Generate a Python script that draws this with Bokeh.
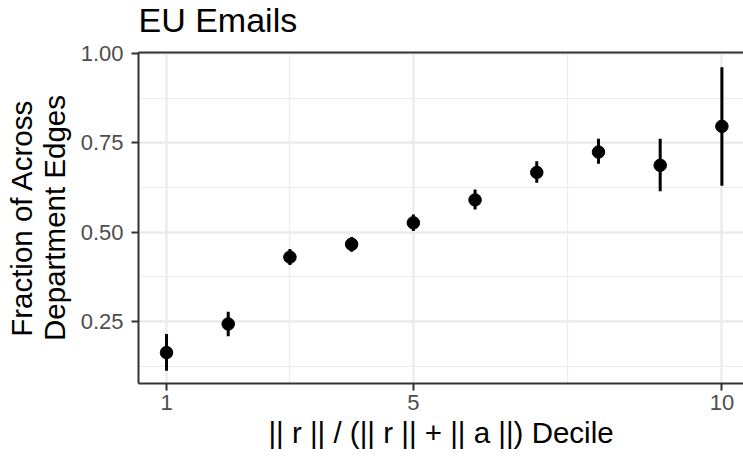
from bokeh.plotting import figure
from bokeh.models import FixedTicker, LinearAxis, Range1d, NumeralTickFormatter, ColumnDataSource, Grid
from bokeh.embed import file_html
from bokeh.resources import INLINE

# ---- data ----
decile = [1, 2, 3, 4, 5, 6, 7, 8, 9, 10]
frac = [0.163, 0.243, 0.430, 0.466, 0.526, 0.590, 0.667, 0.724, 0.687, 0.796]
lower = [0.112, 0.209, 0.408, 0.445, 0.503, 0.563, 0.638, 0.691, 0.614, 0.630]
upper = [0.215, 0.277, 0.453, 0.486, 0.549, 0.619, 0.698, 0.761, 0.761, 0.961]

x_major = [1, 5, 10]
x_minor = [3, 7.5]
y_major = [0.25, 0.50, 0.75, 1.00]
y_minor = [0.125, 0.375, 0.625, 0.875]

title_text = "EU Emails"
x_title = "|| r || / (|| r || + || a ||) Decile"
y_title = "Fraction of Across\nDepartment Edges"

FONT = "Liberation Sans"

src = ColumnDataSource(dict(x=decile, y=frac, lo=lower, hi=upper))

# canvas is 16px taller than the window and shifted up by 16px, so the title
# can sit higher above the panel than Bokeh's title box otherwise allows
p = figure(width=743, height=473, output_backend="svg", toolbar_location=None,
           x_range=Range1d(0.546, 10.35), y_range=Range1d(0.0765, 1.0025),
           min_border_left=138, min_border_right=0, min_border_top=68, min_border_bottom=74,
           x_axis_type=None, y_axis_type=None)
p.margin = (-16, 0, 0, 0)
p.outline_line_color = None
p.background_fill_color = "white"
p.border_fill_color = "white"

# title
p.title.text = title_text
p.title.text_font = FONT
p.title.text_font_size = "34px"
p.title.text_font_style = "normal"
p.title.text_color = "black"
p.title.align = "left"
p.title.standoff = 28
p.title.offset = 0

axis_color = "#333333"
tick_color = "#4D4D4D"

xaxis = LinearAxis(ticker=FixedTicker(ticks=x_major, minor_ticks=x_minor))
xaxis.axis_label = x_title
p.add_layout(xaxis, "below")
yaxis = LinearAxis(ticker=FixedTicker(ticks=y_major, minor_ticks=y_minor),
                   formatter=NumeralTickFormatter(format="0.00"))
yaxis.axis_label = y_title
p.add_layout(yaxis, "left")
top = LinearAxis(ticker=FixedTicker(ticks=[]))
top.major_label_text_font_size = "0px"
top.major_tick_out = 0
top.major_tick_in = 0
top.minor_tick_out = 0
top.minor_tick_in = 0
top.major_label_standoff = 0
top.axis_line_color = axis_color
top.axis_line_width = 2
p.add_layout(top, "above")

for ax in (xaxis, yaxis):
    ax.axis_line_color = axis_color
    ax.axis_line_width = 2
    ax.major_tick_line_color = axis_color
    ax.major_tick_line_width = 2
    ax.major_tick_out = 7
    ax.major_tick_in = 0
    ax.minor_tick_line_color = None
    ax.major_label_text_font = FONT
    ax.major_label_text_font_size = "22px"
    ax.major_label_text_color = tick_color
    ax.axis_label_text_font = FONT
    ax.axis_label_text_font_size = "29.5px"
    ax.axis_label_text_font_style = "normal"
    ax.axis_label_text_color = "black"

xaxis.major_label_standoff = 4
xaxis.axis_label_standoff = 3
yaxis.major_label_standoff = 8
yaxis.axis_label_standoff = 7
yaxis.axis_label_text_line_height = 1.0

# grids
gx = Grid(dimension=0, ticker=xaxis.ticker)
gy = Grid(dimension=1, ticker=yaxis.ticker)
for g in (gx, gy):
    g.grid_line_color = "#EBEBEB"
    g.grid_line_width = 2.4
    g.minor_grid_line_color = "#EBEBEB"
    g.minor_grid_line_width = 1.2
    p.add_layout(g)

# point ranges
p.segment(x0="x", y0="lo", x1="x", y1="hi", source=src, line_color="black", line_width=3)
p.scatter(x="x", y="y", source=src, size=12.5, fill_color="black", line_color="black")

open("out.html", "w").write(file_html(p, INLINE))
